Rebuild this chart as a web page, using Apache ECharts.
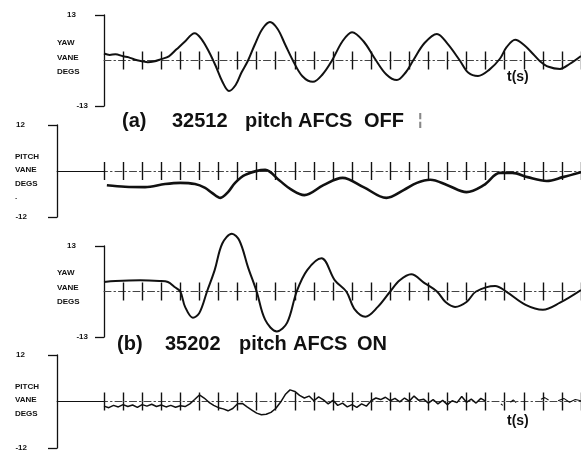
<!DOCTYPE html>
<html><head><meta charset="utf-8">
<script src="https://cdn.jsdelivr.net/npm/echarts@6/dist/echarts.min.js"></script>
<style>html,body{margin:0;padding:0;background:#fff}#c{width:581px;height:454px}</style>
</head><body><div id="c"></div>
<script>
// ---- data: [time (s), vane angle (deg)] ----
const yawOff = [[0,2.0],[0.3,1.6],[0.6,1.8],[1.0,1.2],[1.3,0.9],[1.6,0.3],[2.0,-0.2],[2.3,-0.5],[2.6,-0.3],[3.0,0.4],[3.4,1.2],[3.8,3.2],[4.2,5.2],[4.75,7.8],[5.1,6.2],[5.5,2.5],[5.85,-1.5],[6.2,-6.0],[6.55,-8.7],[6.9,-7.0],[7.2,-3.5],[7.55,0],[7.9,4.5],[8.3,9.0],[8.7,11.0],[9.1,9.0],[9.5,4.5],[9.9,0],[10.4,-4.5],[10.95,-6.1],[11.45,-4.0],[11.95,0],[12.5,5.5],[13.0,8.1],[13.6,5.5],[14.2,0.5],[14.8,-4.0],[15.35,-5.6],[15.8,-3.5],[16.2,0],[16.8,5.0],[17.45,7.6],[18.0,4.8],[18.65,0],[19.1,-3.5],[19.6,-4.4],[20.2,-2.6],[20.75,0.5],[21.1,3.8],[21.55,5.9],[22.0,4.5],[22.5,1.8],[22.85,-0.2],[23.3,-1.8],[23.9,-2.4],[24.4,-1.0],[25.0,1.3]];
const pitchOff = [[0.15,-3.7],[1.1,-4.1],[2.15,-4.2],[3.2,-3.4],[4.0,-3.1],[4.77,-3.4],[5.3,-4.4],[5.66,-5.7],[6.1,-7.0],[6.5,-5.5],[6.87,-3.1],[7.4,-1.0],[8.45,0.3],[9.2,-2.5],[9.8,-4.8],[10.5,-6.3],[11.5,-3.7],[12.5,-1.8],[13.6,-4.2],[14.8,-7.0],[15.7,-5.0],[16.4,-3.1],[17.1,-2.3],[18.0,-3.7],[19.0,-5.5],[19.9,-3.7],[20.75,-0.5],[21.4,-0.5],[22.2,-1.6],[23.2,-2.6],[24.05,-1.6],[25.0,-0.3]];
const yawOn = [[0,2.7],[0.6,3.0],[1.9,3.2],[2.9,3.0],[3.35,2.7],[3.7,1.3],[4.0,0],[4.25,-4.4],[4.66,-7.5],[5.0,-6.1],[5.4,0],[5.8,6.1],[6.2,13.7],[6.7,16.5],[7.1,14.5],[7.55,6.9],[8.0,0],[8.45,-8.1],[9.06,-11.4],[9.6,-8.9],[10.1,0],[10.65,6.1],[11.4,9.5],[12.1,3.2],[12.7,0],[13.15,-5.2],[13.7,-7.2],[14.35,-4.4],[15.0,0],[15.5,3.2],[16.1,4.9],[16.8,2.4],[17.45,0],[17.9,-3.0],[18.4,-4.4],[19.0,-3.0],[19.5,0],[20.5,1.6],[21.1,-0.1],[22.1,-3.8],[23.0,-5.2],[23.9,-3.2],[25.0,0.4]];
const pitchOn = [[0,-1.2],[0.25,-1.6],[0.5,-1.0],[0.75,-1.4],[1.0,-0.8],[1.25,-1.3],[1.5,-0.9],[1.75,-1.5],[2.0,-0.8],[2.25,-1.2],[2.5,-0.7],[2.75,-1.3],[3.0,-0.9],[3.25,-1.4],[3.5,-1.0],[3.75,-1.5],[4.0,-1.1],[4.25,-1.3],[4.5,-0.6],[4.75,0.5],[5.0,1.7],[5.25,0.9],[5.5,-0.2],[5.75,-1.0],[6.0,-1.6],[6.25,-1.9],[6.5,-2.4],[6.75,-1.8],[7.0,-0.6],[7.25,-0.5],[7.5,-1.4],[7.75,-2.2],[8.0,-3.0],[8.25,-3.4],[8.5,-3.3],[8.75,-2.8],[9.0,-1.8],[9.25,-0.2],[9.5,1.8],[9.75,3.0],[10.0,2.6],[10.25,1.6],[10.5,0.9],[10.75,1.4],[11.0,0.2],[11.25,1.2],[11.5,0.4],[11.75,-0.6],[12.0,0.3],[12.25,-1.0],[12.5,-0.4],[12.75,-1.4],[13.0,-0.8],[13.25,-1.5],[13.5,-0.6],[13.75,-1.2],[14.0,0.2],[14.25,0.9],[14.5,0.5],[14.75,1.1],[15.0,0.2],[15.25,0.8],[15.5,-0.1],[15.75,0.9],[16.0,0.1],[16.25,1.4],[16.5,0.3],[16.75,0.6],[17.0,-0.4],[17.25,0.5],[17.5,-0.6],[17.75,0.3],[18.0,-0.8],[18.25,0.2],[18.5,-0.3],[18.75,1.3],[19.0,-0.2],[19.25,0.6],[19.5,-0.4],[19.75,0.8],[20.0,0.1]];
const pitchOnTail = [[20.8,-0.6],[20.9,-1.0],'-',[21.3,-0.2],[21.45,0.4],[21.6,-0.3],'-',[22.9,0.6],[23.1,1.0],[23.3,0.4],'-',[23.8,0.2],[24.1,0.8],[24.4,-0.2],[24.7,0.5],[25.0,0.2]];
const tickTimesYaw = [1,2,3,4,5,6,7,8,9,10,11,12,13,14,15,16,17,18,19,20,21,22,23,24,25];
const tickTimesPitch = [0,1,2,3,4,5,6,7,8,9,10,11,12,13,14,15,16,17,18,19,20,21,22,23,24,25];
const yawRange = [-13, 13];
const pitchRange = [-12, 12];
const titleWordsA = ['(a)', '32512', 'pitch', 'AFCS', 'OFF'];
const titleWordsB = ['(b)', '35202', 'pitch', 'AFCS', 'ON'];
const yawName = 'YAW\nVANE\nDEGS';
const pitchName = 'PITCH\nVANE\nDEGS\n.';
const timeUnit = 't(s)';

// ---- layout ----
const T0PX = 104, TENDPX = 581, TMAX = 25;
const pxPerSec = (TENDPX - T0PX) / TMAX;
const pitchLeft = 57;
const pitchXMin = -(T0PX - pitchLeft) / pxPerSec;
const INK = '#111';
const titleLeftA = [122, 172, 245, 298, 364];
const titleLeftB = [117, 165, 239, 293, 357];

const grids = [
  {left: T0PX, right: 0, top: 15, height: 91},
  {left: pitchLeft, right: 0, top: 125, height: 92},
  {left: T0PX, right: 0, top: 246, height: 91},
  {left: pitchLeft, right: 0, top: 355, height: 93}
];
const isPitch = [false, true, false, true];

const xAxes = [];
grids.forEach((g, i) => {
  [false, true].forEach(inside => {
    xAxes.push({
      type: 'value', gridIndex: i, position: 'bottom',
      min: isPitch[i] ? pitchXMin : 0, max: TMAX,
      axisLine: {show: true, onZero: true, onZeroAxisIndex: i,
        lineStyle: {color: '#444', width: 1, type: [7, 3, 1.5, 3], opacity: inside ? 0 : 1}},
      axisTick: {show: true, inside: inside, length: 9,
        customValues: isPitch[i] ? tickTimesPitch : tickTimesYaw,
        lineStyle: {color: INK, width: 1.4}},
      axisLabel: {show: false}, splitLine: {show: false}
    });
  });
});

const labelFont = {fontFamily: 'Liberation Sans', fontWeight: 'bold', fontSize: 8, color: INK};
const yAxes = grids.map((g, i) => {
  const r = isPitch[i] ? pitchRange : yawRange;
  return {
    type: 'value', gridIndex: i, position: 'left',
    min: r[0], max: r[1], interval: r[1] - r[0],
    axisLine: {show: true, onZero: false, lineStyle: {color: INK, width: 1.3}},
    axisTick: {show: true, length: 9, lineStyle: {color: INK, width: 1.3}},
    splitLine: {show: false},
    axisLabel: Object.assign({}, labelFont, {
      margin: isPitch[i] ? 30 : 16,
      formatter: v => v > 0 ? '{p|' + v + '}' : '{n|' + v + '}',
      rich: {
        p: Object.assign({}, labelFont, {padding: [0, isPitch[i] ? 2 : 12, 0, 0]}),
        n: Object.assign({}, labelFont)
      }
    })
  };
});

const traceStyle = (w) => ({color: INK, width: w});
const leadIn = {
  silent: true, symbol: ['none', 'none'], label: {show: false},
  lineStyle: {type: 'solid', color: INK, width: 1.2},
  data: [[{coord: [pitchXMin, 0]}, {coord: [0, 0]}]]
};

const titleFont = {fontFamily: 'Liberation Sans', fontWeight: 'bold', fontSize: 20, color: INK};
const titles = [];
titleWordsA.forEach((w, k) => titles.push({text: w, left: titleLeftA[k], top: 111, padding: 0, textStyle: titleFont}));
titleWordsB.forEach((w, k) => titles.push({text: w, left: titleLeftB[k], top: 334, padding: 0, textStyle: titleFont}));
const unitFont = {fontFamily: 'Liberation Sans', fontWeight: 'bold', fontSize: 14, color: INK};
titles.push({text: timeUnit, left: 507, top: 70, padding: 0, textStyle: unitFont});
titles.push({text: timeUnit, left: 507, top: 414, padding: 0, textStyle: unitFont});
titles.push({text: '¦', left: 418, top: 113, padding: 0, textStyle: {fontSize: 16, color: '#888'}});

const nameStyle = (txt, lh) => Object.assign({text: txt, lineHeight: lh, align: 'left',
  font: 'bold 8px "Liberation Sans"', fill: INK});
const graphic = [
  {type: 'text', left: 57, top: 36, style: nameStyle(yawName, 14.5)},
  {type: 'text', left: 15, top: 150, style: nameStyle(pitchName, 13.5)},
  {type: 'text', left: 57, top: 266, style: nameStyle(yawName, 14.5)},
  {type: 'text', left: 15, top: 380, style: nameStyle(pitchName.replace('\n.', ''), 13.5)}
];

const option = {
  backgroundColor: '#fff',
  animation: false,
  title: titles,
  graphic: graphic,
  grid: grids.map(g => Object.assign({outerBoundsMode: 'none'}, g)),
  xAxis: xAxes,
  yAxis: yAxes,
  series: [
    {type: 'line', name: 'yaw AFCS off', xAxisIndex: 0, yAxisIndex: 0, data: yawOff,
     smooth: 0.35, symbol: 'none', clip: false, lineStyle: traceStyle(2)},
    {type: 'line', name: 'pitch AFCS off', xAxisIndex: 2, yAxisIndex: 1, data: pitchOff,
     smooth: 0.35, symbol: 'none', clip: false, lineStyle: traceStyle(2.6), markLine: leadIn},
    {type: 'line', name: 'yaw AFCS on', xAxisIndex: 4, yAxisIndex: 2, data: yawOn,
     smooth: 0.35, symbol: 'none', clip: false, lineStyle: traceStyle(2)},
    {type: 'line', name: 'pitch AFCS on', xAxisIndex: 6, yAxisIndex: 3, data: pitchOn,
     smooth: false, symbol: 'none', clip: false, lineStyle: traceStyle(1.5), markLine: leadIn},
    {type: 'line', name: 'pitch AFCS on tail', xAxisIndex: 6, yAxisIndex: 3, data: pitchOnTail,
     smooth: false, symbol: 'none', clip: false, connectNulls: false, lineStyle: traceStyle(1.1)}
  ]
};
const chart = echarts.init(document.getElementById('c'), null, {renderer: 'canvas'});
chart.setOption(option);
</script>
</body></html>
